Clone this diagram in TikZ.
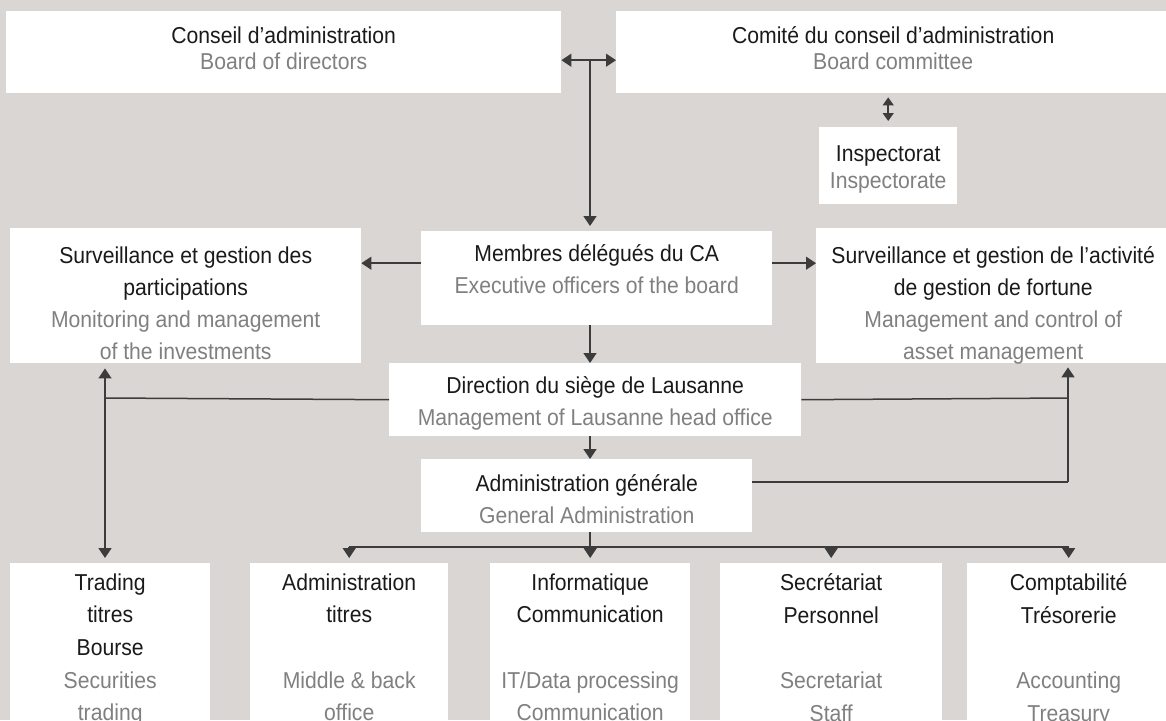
\documentclass[tikz,border=0pt]{standalone}
\usepackage{fontspec}
\setmainfont{Liberation Sans}[FakeStretch=0.92]
\usetikzlibrary{arrows.meta}
\definecolor{bgc}{HTML}{DAD6D3}
\definecolor{linec}{HTML}{3C3C3C}
\definecolor{frc}{HTML}{1A1A1A}
\definecolor{enc}{HTML}{808080}
\newcommand{\en}[1]{\textcolor{enc}{#1}}
\newcommand{\tstrut}{\rule{0pt}{16pt}}

\begin{document}
\begin{tikzpicture}[x=1pt,y=-1pt,
  box/.style={fill=white, draw=none, inner sep=0pt, anchor=north west},
  txt/.style={text=frc, align=center, inner sep=0pt, anchor=north, font=\fontsize{23}{32}\selectfont},
  txttop/.style={txt, font=\fontsize{23}{26.5}\selectfont},
  txtlow/.style={txt, font=\fontsize{23}{32.7}\selectfont},
  conn/.style={draw=linec, line width=1.5pt},
  arr/.style={conn, -{Triangle[width=13pt,length=10pt]}},
  dblarr/.style={conn, {Triangle[width=13pt,length=10pt]}-{Triangle[width=13pt,length=10pt]}},
  smalldbl/.style={conn, {Triangle[width=11pt,length=8pt]}-{Triangle[width=11pt,length=8pt]}}
]

\clip (0,0) rectangle (1166,720);
\useasboundingbox (0,0) rectangle (1166,720);
\fill[bgc] (0,0) rectangle (1166,720);

% boxes
\node[box, minimum width=555, minimum height=82] (board) at (6,11) {};
\node[box, minimum width=554, minimum height=82] (committee) at (616,11) {};
\node[box, minimum width=138, minimum height=77] (inspect) at (819,127) {};
\node[box, minimum width=351, minimum height=135] (leftmon) at (10,228) {};
\node[box, minimum width=351, minimum height=94] (members) at (421,231) {};
\node[box, minimum width=354, minimum height=135] (rightmgmt) at (816,228) {};
\node[box, minimum width=412, minimum height=73] (direction) at (389,363) {};
\node[box, minimum width=331, minimum height=73] (admin) at (421,459) {};
\node[box, minimum width=200, minimum height=170] (trading) at (10,563) {};
\node[box, minimum width=198, minimum height=170] (admtitres) at (250,563) {};
\node[box, minimum width=200, minimum height=170] (info) at (490,563) {};
\node[box, minimum width=222, minimum height=170] (secr) at (720,563) {};
\node[box, minimum width=203, minimum height=170] (compt) at (967,563) {};

% texts
\node[txttop] (board-t) at ([yshift=-15.3]board.north) {\tstrut Conseil d'administration\\\en{Board of directors}};
\node[txttop] (committee-t) at ([yshift=-15.3]committee.north) {\tstrut Comité du conseil d'administration\\\en{Board committee}};
\node[txttop] (inspect-t) at ([yshift=-18.3]inspect.north) {\tstrut Inspectorat\\\en{Inspectorate}};
\node[txt] (leftmon-t) at ([yshift=-18.3]leftmon.north) {\tstrut Surveillance et gestion des\\participations\\\en{Monitoring and management}\\\en{of the investments}};
\node[txt] (members-t) at ([yshift=-13.3]members.north) {\tstrut Membres délégués du CA\\\en{Executive officers of the board}};
\node[txt] (rightmgmt-t) at ([yshift=-18.3]rightmgmt.north) {\tstrut Surveillance et gestion de l'activité\\de gestion de fortune\\\en{Management and control of}\\\en{asset management}};
\node[txt] (direction-t) at ([yshift=-13.3]direction.north) {\tstrut Direction du siège de Lausanne\\\en{Management of Lausanne head office}};
\node[txt] (admin-t) at ([yshift=-15.3]admin.north) {\tstrut Administration générale\\\en{General Administration}};
\node[txtlow] (trading-t) at ([yshift=-10.3]trading.north) {\tstrut Trading\\titres\\Bourse\\\en{Securities}\\\en{trading}};
\node[txtlow] (admtitres-t) at ([yshift=-10.3]admtitres.north) {\tstrut Administration\\titres\\\mbox{}\\\en{Middle \& back}\\\en{office}};
\node[txtlow] (info-t) at ([yshift=-10.3]info.north) {\tstrut Informatique\\Communication\\\mbox{}\\\en{IT/Data processing}\\\en{Communication}};
\node[txtlow] (secr-t) at ([yshift=-10.3]secr.north) {\tstrut Secrétariat\\Personnel\\\mbox{}\\\en{Secretariat}\\\en{Staff}};
\node[txtlow] (compt-t) at ([yshift=-10.3]compt.north) {\tstrut Comptabilité\\Trésorerie\\\mbox{}\\\en{Accounting}\\\en{Treasury}};

% joints
\coordinate (topjoin) at (590,60);
\coordinate (lbranch) at (105,398);
\coordinate (rbranch) at (1068,398);
\coordinate (drow) at (590,547);

% connectors
\draw[dblarr] ([yshift=-8]board.east) -- ([yshift=-8]committee.west);
\draw[arr, shorten >=5] (topjoin) -- (topjoin |- members.north);
\draw[smalldbl, shorten <=4, shorten >=6] (inspect.north |- committee.south) -- (inspect.north);

\draw[arr] ([yshift=15]members.west) -- ([yshift=15]members.west -| leftmon.east);
\draw[arr] ([yshift=15]members.east) -- ([yshift=15]members.east -| rightmgmt.west);
\draw[arr] (topjoin |- members.south) -- (topjoin |- direction.north);
\draw[arr] (topjoin |- direction.south) -- (topjoin |- admin.north);

\draw[conn] (direction.west) -- (lbranch);
\draw[arr, shorten >=5] (lbranch) -- (lbranch |- leftmon.south);
\draw[arr, shorten >=5] (lbranch) -- (lbranch |- trading.north);
\draw[conn] (direction.east) -- (rbranch);
\draw[conn] ([yshift=13.5]admin.east) -- ([yshift=13.5]admin.east -| rbranch);
\draw[arr, shorten >=4] ([yshift=13.5]admin.east -| rbranch) -- (rbranch |- rightmgmt.south);

\draw[conn] (topjoin |- admin.south) -- (drow);
\draw[conn] (drow -| admtitres.north) -- (drow -| compt.north);
\foreach \b in {admtitres,info,secr,compt}
  \draw[arr, shorten >=5] (drow -| \b.north) -- (\b.north);

\end{tikzpicture}
\end{document}
